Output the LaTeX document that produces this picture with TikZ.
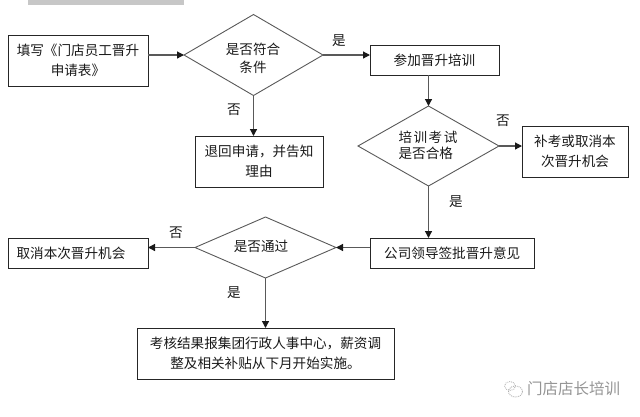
\documentclass[tikz,border=0pt]{standalone}
\usepackage{fontspec}
\setmainfont{Noto Sans CJK SC}
\usetikzlibrary{shapes.geometric,arrows.meta}
\tikzset{
  boxn/.style={draw=black!85,line width=0.9pt,inner sep=0pt,outer sep=0pt,align=center,text=black!90,
     font=\fontsize{13.6pt}{20pt}\selectfont},
  dia/.style={diamond,draw=black!65,line width=0.9pt,inner sep=0pt,outer sep=0pt},
  txt/.style={inner sep=0pt,outer sep=0pt,align=center,text=black!90,font=\fontsize{13.6pt}{18pt}\selectfont},
  flow/.style={draw=black!65,line width=1.2pt,-{Triangle[length=7pt,width=7pt,color=black!90]}},
}
\begin{document}
\begin{tikzpicture}[x=1pt,y=-1pt]
\useasboundingbox (0,0) rectangle (640,416);
\fill[black!22] (28,0) rectangle (184,5);
\node[boxn,minimum width=140pt,minimum height=51pt] (b1) at (78,60.5) {填写《门店员工晋升\\申请表》};
\node[dia,minimum width=139pt,minimum height=81pt] (d1) at (253.5,55) {};
\node[txt] (t1) at (253,58) {是否符合\\条件};
\node[boxn,minimum width=128pt,minimum height=51pt] (b2) at (259,161.5) {退回申请，并告知\\理由};
\node[boxn,minimum width=129pt,minimum height=30pt] (b3) at (434.5,60) {参加晋升培训};
\node[dia,minimum width=141pt,minimum height=80pt] (d2) at (428.5,146) {};
\node[txt,align=left,font=\fontsize{13.6pt}{16pt}\selectfont] (t2) at (428,145.5) {培\hspace{1.5pt}训\hspace{1.5pt}考\hspace{1.5pt}试\\是否合格};
\node[boxn,minimum width=106pt,minimum height=51pt] (b4) at (575,151.5) {补考或取消本\\次晋升机会};
\node[boxn,minimum width=164.5pt,minimum height=30pt] (b5) at (452.2,253) {公司领导签批晋升意见};
\node[dia,minimum width=141pt,minimum height=61pt] (d3) at (265.5,247.5) {};
\node[txt] (t3) at (261,246) {是否通过};
\node[boxn,minimum width=140pt,minimum height=30pt] (b6) at (78,253) {\hspace*{-14pt}取消本次晋升机会};
\node[boxn,minimum width=257pt,minimum height=51pt] (b7) at (265.5,353.5) {考核结果报集团行政人事中心，薪资调\\整及相关补贴从下月开始实施。};
\node[txt] (l1) at (339,40.5) {是};
\node[txt] (l2) at (234,110) {否};
\node[txt] (l3) at (503,120.5) {否};
\node[txt] (l4) at (456,201.5) {是};
\node[txt] (l5) at (176,232.5) {否};
\node[txt] (l6) at (234,293) {是};
\draw[flow] (b1.east |- d1.west) -- (d1.west);
\draw[flow] (d1.east) -- (d1.east -| b3.west);
\draw[flow] (d1.south) -- (d1.south |- b2.north);
\draw[flow] (d2.north |- b3.south) -- (d2.north);
\draw[flow] (d2.east) -- (d2.east -| b4.west);
\draw[flow] (d2.south) -- (d2.south |- b5.north);
\draw[flow] (d3.east -| b5.west) -- (d3.east);
\draw[flow] (d3.west) -- (d3.west -| b6.east);
\draw[flow] (d3.south) -- (d3.south |- b7.north);
% watermark
\draw[black!28,line width=0.9pt,densely dotted] (510,386) ellipse (5.5pt and 4.5pt);
\draw[black!32,line width=0.9pt,densely dotted] (515.5,391.5) ellipse (7pt and 5.5pt);
\node[inner sep=0pt,text=black!42,font=\fontsize{15.5pt}{16pt}\selectfont] (wm) at (573.5,388.5) {门店店长培训};
\end{tikzpicture}
\end{document}
